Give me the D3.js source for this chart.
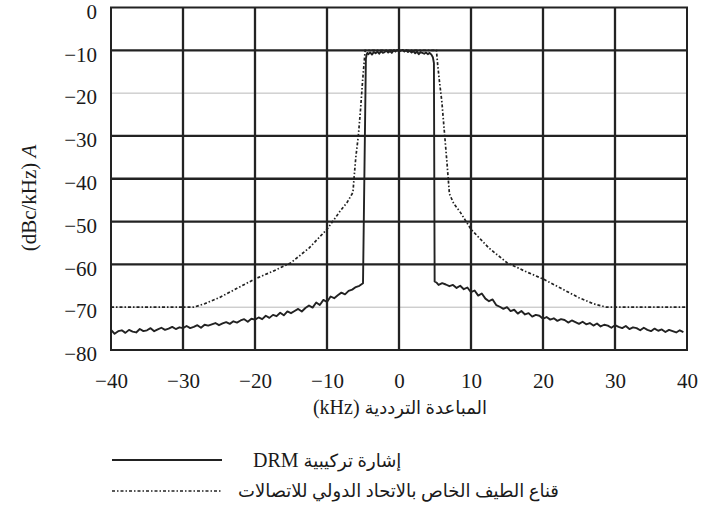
<!DOCTYPE html>
<html>
<head>
<meta charset="utf-8">
<script src="https://cdn.jsdelivr.net/npm/d3@7/dist/d3.min.js"></script>
<style>
  html, body { margin: 0; padding: 0; background: #fff; }
  svg { display: block; }
  text { font-family: "Liberation Serif", "DejaVu Serif", "DejaVu Sans", serif; fill: #1a1a1a; }
</style>
</head>
<body>
<svg id="chart" width="702" height="515"></svg>
<script>
// Frequency offset (kHz) and level (dBc/kHz) of the synthesised DRM signal
const signalFreq = [
  -40, -39.5, -39, -38.5, -38, -37.5, -37, -36.5, -36, -35.5, -35, -34.5, -34, -33.5, -33, -32.5,
  -32, -31.5, -31, -30.5, -30, -29.5, -29, -28.5, -28, -27.5, -27, -26.5, -26, -25.5, -25, -24.5,
  -24, -23.5, -23, -22.5, -22, -21.5, -21, -20.5, -20, -19.5, -19, -18.5, -18, -17.5, -17, -16.5,
  -16, -15.5, -15, -14.5, -14, -13.5, -13, -12.5, -12, -11.5, -11, -10.5, -10, -9.5, -9, -8.5,
  -8, -7.5, -7, -6.5, -6, -5.5, -5.0,
  -4.6, -4.5, -4.4,
  -4.25, -4, -3.75, -3.5, -3.25, -3, -2.75, -2.5, -2.25, -2, -1.75, -1.5, -1.25, -1, -0.75, -0.5, -0.25,
  0, 0.25, 0.5, 0.75, 1, 1.25, 1.5, 1.75, 2, 2.25, 2.5, 2.75, 3, 3.25, 3.5, 3.75, 4, 4.25, 4.5, 4.7,
  4.85, 4.95, 5.25,
  5.5, 6, 6.5, 7, 7.5, 8, 8.5, 9, 9.5, 10, 10.5, 11, 11.5, 12, 12.5, 13, 13.5, 14, 14.5, 15,
  15.5, 16, 16.5, 17, 17.5, 18, 18.5, 19, 19.5, 20, 20.5, 21, 21.5, 22, 22.5, 23, 23.5, 24, 24.5, 25,
  25.5, 26, 26.5, 27, 27.5, 28, 28.5, 29, 29.5, 30, 30.5, 31, 31.5, 32, 32.5, 33, 33.5, 34, 34.5, 35,
  35.5, 36, 36.5, 37, 37.5, 38, 38.5, 39, 39.5, 40
];
const signalLevel = [
  -75.3, -76.2, -75.6, -75.4, -76.0, -75.3, -75.7, -75.9, -75.1, -75.6, -75.4, -74.9, -75.6, -75.2, -74.8, -75.3,
  -75.0, -74.6, -75.1, -74.7, -74.9, -74.4, -74.9, -74.6, -74.2, -74.8, -74.1, -74.3, -74.0, -73.7, -74.2, -73.8,
  -73.5, -73.9, -73.3, -73.6, -73.1, -72.8, -73.4, -72.7, -72.9, -72.4, -72.8, -72.0, -72.5, -71.8, -72.1, -71.3,
  -71.9, -71.0, -71.4, -70.9, -70.4, -71.0, -70.2, -69.6, -70.1, -68.9, -69.5, -68.3, -68.8, -67.5, -67.9, -67.2,
  -66.6, -67.0, -66.2, -65.9, -65.3, -65.0, -64.4,
  -12.0, -11.0, -10.6,
  -10.9, -10.5, -11.0, -10.4, -10.7, -10.3, -10.8, -10.2, -10.6, -10.4, -10.1, -10.5, -10.2, -10.6, -10.0, -10.3, -9.9,
  -10.2, -10.1, -9.9, -10.3, -10.0, -10.4, -10.1, -10.5, -10.2, -10.7, -10.3, -10.9, -10.4, -10.6, -10.8, -10.5, -10.9, -10.6, -11.0,
  -11.6, -13.0, -64.0,
  -64.3, -64.8, -64.4, -64.7, -65.1, -64.8, -65.5, -65.0, -65.8, -65.4, -66.5, -66.1, -67.3, -66.8, -68.0, -68.6, -68.2, -69.5, -69.9, -70.4,
  -70.0, -70.9, -70.6, -71.5, -70.9, -71.7, -71.4, -72.2, -71.8, -72.0, -72.7, -72.3, -72.9, -72.6, -73.2, -72.8, -73.0, -73.6, -73.1, -73.5,
  -73.9, -73.4, -74.0, -73.7, -74.3, -73.8, -74.5, -74.1, -74.3, -74.8, -74.2, -74.6, -74.9, -74.4, -75.1, -74.7, -74.9, -75.4, -74.8, -75.3,
  -75.6, -75.0, -75.5, -75.2, -75.8, -75.3, -75.6, -75.9, -75.4, -75.8
];

// ITU spectrum mask (breakpoints)
const maskFreq = [
  -40, -28.5, -27, -25, -22.5, -20, -17.5, -15, -12.5, -10, -9, -8.2, -7.2, -6.4,
  -6.2, -6.0, -5.65, -5.35, -5.05, -4.8, -4.7,
  5.2, 5.35, 5.6, 5.95, 6.35, 6.65, 7.0,
  7.6, 8.5, 10, 12.5, 15, 17.5, 20, 22.5, 25, 27, 28.8, 40
];
const maskLevel = [
  -70, -70, -69.2, -67.8, -65.6, -63.4, -61.6, -59.6, -56.2, -51.8, -49.5, -47.6, -45.5, -43.2,
  -39, -35, -30, -24, -17, -12, -10,
  -10, -13, -17, -22, -30, -36, -43.5,
  -45.8, -47.8, -51.8, -56.2, -59.6, -61.6, -63.4, -65.6, -67.8, -69.2, -70, -70
];

// Axis ticks
const xTicks = [-40, -30, -20, -10, 0, 10, 20, 30, 40];
const yTicks = [0, -10, -20, -30, -40, -50, -60, -70, -80];
const yMajorGrid = [-10, -30, -40, -50, -60];
const yMinorGrid = [-20, -70];
const xGrid = [-30, -20, -10, 0, 10, 20, 30];

// Text
const xTitleUnit = "(kHz) ";
const xTitleText = "المباعدة الترددية";
const yTitleUnit = "(dBc/kHz) ";
const yTitleSym = "A";
const legendSignal = "إشارة تركيبية";
const legendSignalTag = "DRM ";
const legendMask = "قناع الطيف الخاص بالاتحاد الدولي للاتصالات";

const svg = d3.select("#chart");
const plot = { left: 111, right: 687, top: 7.5, bottom: 350 };

const x = d3.scaleLinear().domain([-40, 40]).range([plot.left, plot.right]);
const y = d3.scaleLinear().domain([-80, 0]).range([plot.bottom, plot.top]);

const ink = "#222";

// Grid
const grid = svg.append("g");
grid.selectAll("line.ymin").data(yMinorGrid).join("line")
  .attr("x1", plot.left).attr("x2", plot.right)
  .attr("y1", d => y(d)).attr("y2", d => y(d))
  .attr("stroke", "#b8b8b8").attr("stroke-width", 1);
grid.selectAll("line.ymaj").data(yMajorGrid).join("line")
  .attr("x1", plot.left).attr("x2", plot.right)
  .attr("y1", d => y(d)).attr("y2", d => y(d))
  .attr("stroke", ink).attr("stroke-width", 2.3);
grid.selectAll("line.xg").data(xGrid).join("line")
  .attr("x1", d => x(d)).attr("x2", d => x(d))
  .attr("y1", plot.top).attr("y2", plot.bottom)
  .attr("stroke", ink).attr("stroke-width", 2.3);

// Spectrum mask
const mask = d3.range(maskFreq.length).map(i => [maskFreq[i], maskLevel[i]]);
svg.append("path")
  .datum(mask)
  .attr("fill", "none")
  .attr("stroke", ink)
  .attr("stroke-width", 1.7)
  .attr("stroke-dasharray", "3,2,1.5,2")
  .attr("d", d3.line().x(d => x(d[0])).y(d => y(d[1])));

// DRM signal
const signal = d3.range(signalFreq.length).map(i => [signalFreq[i], signalLevel[i]]);
svg.append("path")
  .datum(signal)
  .attr("fill", "none")
  .attr("stroke", ink)
  .attr("stroke-width", 1.9)
  .attr("stroke-linejoin", "round")
  .attr("d", d3.line().x(d => x(d[0])).y(d => y(d[1])));

// Frame
svg.append("rect")
  .attr("x", plot.left).attr("y", plot.top)
  .attr("width", plot.right - plot.left).attr("height", plot.bottom - plot.top)
  .attr("fill", "none").attr("stroke", ink).attr("stroke-width", 2);

// Axes (tick labels only)
const fmt = d => d < 0 ? "\u2212" + Math.abs(d) : String(d);
const xAxis = d3.axisBottom(x).tickValues(xTicks).tickFormat(fmt).tickSize(0).tickPadding(0);
const gx = svg.append("g").attr("transform", `translate(0,${plot.bottom})`).call(xAxis);
gx.select(".domain").remove();
gx.selectAll("text").attr("dy", null).attr("y", 38)
  .style("font-size", "21px").style("font-family", "'Liberation Serif', serif").attr("fill", "#1a1a1a");

const yAxis = d3.axisLeft(y).tickValues(yTicks).tickFormat(fmt).tickSize(0).tickPadding(0);
const gy = svg.append("g").attr("transform", `translate(97,0)`).call(yAxis);
gy.select(".domain").remove();
gy.selectAll("text").attr("x", 0).attr("dy", "0.32em").attr("y", 4)
  .style("font-size", "21px").style("font-family", "'Liberation Serif', serif").attr("fill", "#1a1a1a");

// X title
const xt = svg.append("text")
  .attr("x", 400).attr("y", 414)
  .attr("text-anchor", "middle")
  .style("font-size", "20px");
xt.append("tspan").text(xTitleUnit);
xt.append("tspan").style("font-size", "18px").text(xTitleText);

// Y title
const yt = svg.append("text")
  .attr("transform", "translate(36,198) rotate(-90)")
  .attr("text-anchor", "middle")
  .style("font-size", "21px");
yt.append("tspan").text(yTitleUnit);
yt.append("tspan").style("font-style", "italic").text(yTitleSym);

// Legend
const legend = svg.append("g");
legend.append("line")
  .attr("x1", 112).attr("x2", 222).attr("y1", 460).attr("y2", 460)
  .attr("stroke", ink).attr("stroke-width", 1.8);
const l1 = legend.append("text").attr("x", 253).attr("y", 467).style("font-size", "20px");
l1.append("tspan").text(legendSignalTag);
l1.append("tspan").style("font-size", "18px").text(legendSignal);

legend.append("line")
  .attr("x1", 112).attr("x2", 222).attr("y1", 491).attr("y2", 491)
  .attr("stroke", ink).attr("stroke-width", 1.7)
  .attr("stroke-dasharray", "3,2,1.5,2");
legend.append("text").attr("x", 238).attr("y", 497).style("font-size", "18px").text(legendMask);
</script>
</body>
</html>
